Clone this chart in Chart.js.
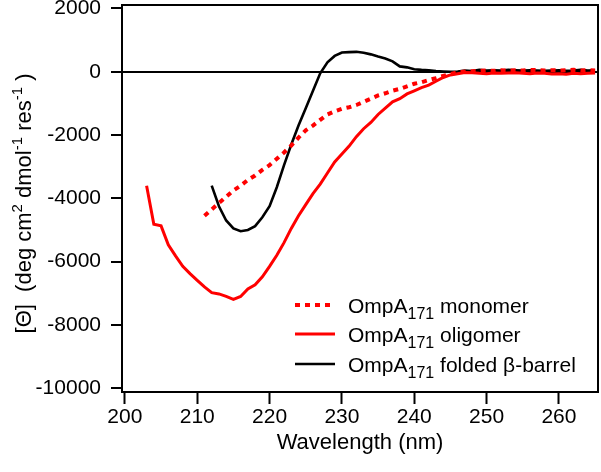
<!DOCTYPE html>
<html>
<head>
<meta charset="utf-8">
<script src="https://cdn.jsdelivr.net/npm/chart.js@4.4.1/dist/chart.umd.min.js"></script>
<style>
  html, body { margin: 0; padding: 0; background: #fff; }
  #wrap { position: relative; width: 601px; height: 472px; }
</style>
</head>
<body>
<div id="wrap"><canvas id="myChart" width="601" height="472"></canvas></div>
<script>
// wavelengths (nm), one value per nm
const wavelength = [203, 204, 205, 206, 207, 208, 209, 210, 211, 212, 213, 214, 215, 216, 217, 218, 219, 220,
  221, 222, 223, 224, 225, 226, 227, 228, 229, 230, 231, 232, 233, 234, 235, 236, 237, 238, 239, 240,
  241, 242, 243, 244, 245, 246, 247, 248, 249, 250, 251, 252, 253, 254, 255, 256, 257, 258, 259, 260,
  261, 262, 263, 264, 265];

// OmpA171 monomer (dotted red)
const monomer = [null, null, null, null, null, null, null, null, -4550, -4350, -4150, -3950, -3750, -3600, -3420, -3280, -3100, -2950,
  -2750, -2550, -2330, -2080, -1850, -1700, -1520, -1350, -1250, -1170, -1120, -1050, -950, -850, -750, -680, -600, -540, -460, -380,
  -330, -260, -200, -130, -70, -20, 10, 20, 30, 40, 30, 50, 40, 50, 40, 60, 50, 40, 50, 40,
  50, 60, 40, 50, 40];

// OmpA171 oligomer (solid red)
const oligomer = [-3600, -4820, -4870, -5470, -5820, -6150, -6380, -6590, -6800, -6980, -7020, -7100, -7190, -7100, -6860, -6730, -6480, -6150,
  -5800, -5400, -4950, -4550, -4200, -3850, -3550, -3200, -2850, -2600, -2350, -2050, -1800, -1600, -1350, -1150, -950, -850, -700, -600,
  -500, -420, -300, -180, -100, -60, -20, -30, -50, -60, -40, -50, -40, -30, -50, -60, -40, -50, -70, -60,
  -80, -50, -60, -50, -40];

// OmpA171 folded beta-barrel (solid black)
const folded = [null, null, null, null, null, null, null, null, null, -3600, -4250, -4700, -4950, -5040, -5000, -4880, -4600, -4250,
  -3650, -2950, -2300, -1700, -1150, -600, -50, 300, 500, 610, 620, 630, 600, 550, 480, 420, 330, 170, 140, 80,
  60, 50, 20, 10, 0, 10, 40, 20, 60, 40, 50, 40, 60, 50, 40, 50, 40, 30, 40, 50,
  30, 40, 60, 40, 50];

const xTicks = [200, 210, 220, 230, 240, 250, 260];
const yTicks = [2000, 0, -2000, -4000, -6000, -8000, -10000];

const legendRows = [
  { base: "OmpA", sub: "171", rest: " monomer" },
  { base: "OmpA", sub: "171", rest: " oligomer" },
  { base: "OmpA", sub: "171", rest: " folded \u03B2-barrel" }
];

const FONT = "'Liberation Sans', Arial, sans-serif";
const RED = "#ff0000";

function pts(ys) {
  return wavelength.map((x, i) => ({ x: x, y: ys[i] }));
}

// draws pieces of text with sub/superscripts, left to right from x
function drawParts(ctx, parts, x, y, size, smallSize) {
  parts.forEach(p => {
    const s = p.shift ? smallSize : size;
    ctx.font = s + "px " + FONT;
    ctx.fillText(p.t, x, y + (p.shift || 0));
    x += ctx.measureText(p.t).width;
  });
  return x;
}
function partsWidth(ctx, parts, size, smallSize) {
  let w = 0;
  parts.forEach(p => {
    ctx.font = (p.shift ? smallSize : size) + "px " + FONT;
    w += ctx.measureText(p.t).width;
  });
  return w;
}

const extras = {
  id: "extras",
  afterDraw(chart) {
    const ctx = chart.ctx;
    const a = chart.chartArea;
    ctx.save();
    // box
    ctx.strokeStyle = "#000";
    ctx.lineWidth = 2;
    ctx.setLineDash([]);
    ctx.strokeRect(a.left, a.top, a.right - a.left, a.bottom - a.top);

    // y axis title with superscripts
    const yParts = [
      { t: "[\u0398]  (deg cm" }, { t: "2", shift: -9 }, { t: " dmol" },
      { t: "-1", shift: -9 }, { t: " res" }, { t: "-1", shift: -9 }, { t: " )" }
    ];
    ctx.fillStyle = "#000";
    ctx.textBaseline = "alphabetic";
    ctx.textAlign = "left";
    const w = partsWidth(ctx, yParts, 22, 15);
    ctx.save();
    ctx.translate(31, (a.top + a.bottom) / 2 + 5);
    ctx.rotate(-Math.PI / 2);
    drawParts(ctx, yParts, -w / 2, 0, 22, 15);
    ctx.restore();

    // legend
    const rowY = [305, 334, 364];
    chart.data.datasets.forEach((ds, i) => {
      const y = rowY[i];
      ctx.beginPath();
      ctx.strokeStyle = ds.borderColor;
      ctx.lineWidth = ds.borderWidth;
      ctx.setLineDash(ds.borderDash || []);
      ctx.moveTo(295, y);
      ctx.lineTo(335, y);
      ctx.stroke();
      ctx.setLineDash([]);
      ctx.fillStyle = "#000";
      const r = legendRows[i];
      drawParts(ctx, [{ t: r.base }, { t: r.sub, shift: 6 }, { t: r.rest }], 348, y + 8, 21, 16);
    });
    ctx.restore();
  }
};

const ctx = document.getElementById("myChart");

new Chart(ctx, {
  type: "line",
  data: {
    datasets: [
      {
        label: "OmpA171 monomer",
        data: pts(monomer),
        borderColor: RED,
        borderWidth: 4,
        borderDash: [5, 5],
        pointRadius: 0,
        tension: 0,
        fill: false
      },
      {
        label: "OmpA171 oligomer",
        data: pts(oligomer),
        borderColor: RED,
        borderWidth: 3,
        pointRadius: 0,
        tension: 0,
        fill: false
      },
      {
        label: "OmpA171 folded \u03B2-barrel",
        data: pts(folded),
        borderColor: "#000",
        borderWidth: 2.6,
        pointRadius: 0,
        tension: 0,
        fill: false
      }
    ]
  },
  options: {
    responsive: false,
    animation: false,
    layout: { padding: { left: 0, right: 3, top: 5, bottom: 0 } },
    plugins: {
      legend: { display: false },
      tooltip: { enabled: false }
    },
    scales: {
      x: {
        type: "linear",
        min: 199.6,
        max: 265.4,
        afterBuildTicks: s => { s.ticks = xTicks.map(v => ({ value: v })); },
        afterFit: s => { s.height = 80; s.paddingLeft = 0; s.paddingRight = 0; },
        border: { display: false },
        grid: { drawOnChartArea: false, tickLength: 12, tickColor: "#000", tickWidth: 2 },
        ticks: { color: "#000", font: { size: 21, family: FONT }, padding: 1, maxRotation: 0, callback: v => String(v) },
        title: { display: true, text: "Wavelength (nm)", color: "#000", font: { size: 22, family: FONT }, padding: { top: 0, bottom: 16 } }
      },
      y: {
        type: "linear",
        min: -10120,
        max: 2110,
        afterBuildTicks: s => { s.ticks = yTicks.map(v => ({ value: v })); },
        afterFit: s => { s.width = 122; s.paddingTop = 0; s.paddingBottom = 0; },
        border: { display: false },
        grid: {
          drawOnChartArea: true,
          color: c => (c.tick && c.tick.value === 0 ? "#000" : "rgba(0,0,0,0)"),
          lineWidth: 2,
          tickLength: 11,
          tickColor: "#000",
          tickWidth: 2
        },
        ticks: { color: "#000", font: { size: 21, family: FONT }, padding: 10, callback: v => String(v) }
      }
    }
  },
  plugins: [extras]
});
</script>
</body>
</html>
